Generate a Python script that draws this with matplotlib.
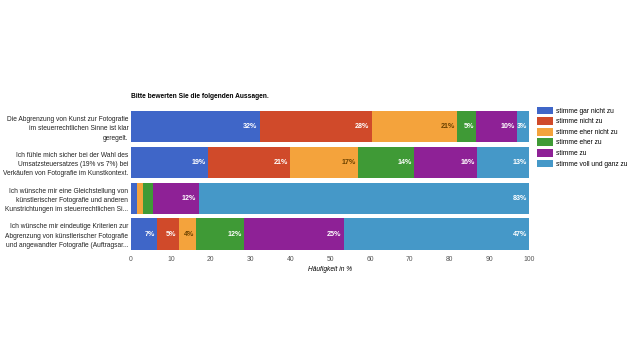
import numpy as np
import matplotlib.pyplot as plt

plt.rcParams['font.family'] = ['Liberation Sans', 'DejaVu Sans']

statements = [
    "Die Abgrenzung von Kunst zur Fotografie\nim steuerrechtlichen Sinne ist klar\ngeregelt.",
    "Ich fühle mich sicher bei der Wahl des\nUmsatzsteuersatzes (19% vs 7%) bei\nVerkäufen von Fotografie im Kunstkontext.",
    "Ich wünsche mir eine Gleichstellung von\nkünstlerischer Fotografie und anderen\nKunstrichtungen im steuerrechtlichen Si...",
    "Ich wünsche mir eindeutige Kriterien zur\nAbgrenzung von künstlerischer Fotografie\nund angewandter Fotografie (Auftragsar...",
]
answers = ["stimme gar nicht zu", "stimme nicht zu", "stimme eher nicht zu",
           "stimme eher zu", "stimme zu", "stimme voll und ganz zu"]

gar_nicht = [32.3, 19.3, 1.6, 6.6]
nicht = [28.2, 20.7, 0.0, 5.4]
eher_nicht = [21.4, 17.0, 1.5, 4.4]
eher = [4.8, 14.1, 2.3, 12.0]
zu = [10.3, 15.9, 11.6, 25.0]
voll = [3.0, 13.0, 83.0, 46.6]

colors = ["#3f66c8", "#d04a2a", "#f4a33c", "#3f9a36", "#8e2196", "#4598c8"]
text_colors = ["white", "white", "#6b4200", "white", "white", "white"]

series = [gar_nicht, nicht, eher_nicht, eher, zu, voll]

fig = plt.figure(figsize=(6.3, 3.5), dpi=100)
ax = fig.add_axes([0.208, 0.28, 0.632, 0.409])

y = np.arange(len(statements))
left = np.zeros(len(statements))
for vals, col, tcol, name in zip(series, colors, text_colors, answers):
    vals = np.array(vals)
    ax.barh(y, vals, left=left, height=0.88, color=col, label=name)
    for yi, (l, v) in enumerate(zip(left, vals)):
        if v >= 2.8:
            ax.text(l + v - 0.6, yi, f"{v:.0f}%", ha="right", va="center",
                    fontsize=5.1, color=tcol, fontweight="bold")
    left += vals

ax.set_xlim(0, 100)
ax.set_ylim(len(statements) - 0.5, -0.5)
ax.set_yticks(y)
ax.set_yticklabels(statements, fontsize=4.8, color="#222222", linespacing=1.45)
ax.set_xticks(np.arange(0, 101, 10))
ax.tick_params(axis="x", labelsize=4.9, labelcolor="#555555", length=0, pad=3)
ax.tick_params(axis="y", length=0, pad=2)
for s in ax.spines.values():
    s.set_visible(False)
ax.set_xlabel("Häufigkeit in %", fontsize=4.8, style="italic", labelpad=2)
ax.set_title("Bitte bewerten Sie die folgenden Aussagen.", fontsize=4.8,
             fontweight="bold", loc="left", pad=8)

fig.legend(loc="upper left", bbox_to_anchor=(0.848, 0.703), frameon=False,
           fontsize=4.8, handlelength=2.4, handleheight=1.4, labelspacing=0.38,
           handletextpad=0.4, borderaxespad=0)

fig.savefig("out.png", dpi=100)
